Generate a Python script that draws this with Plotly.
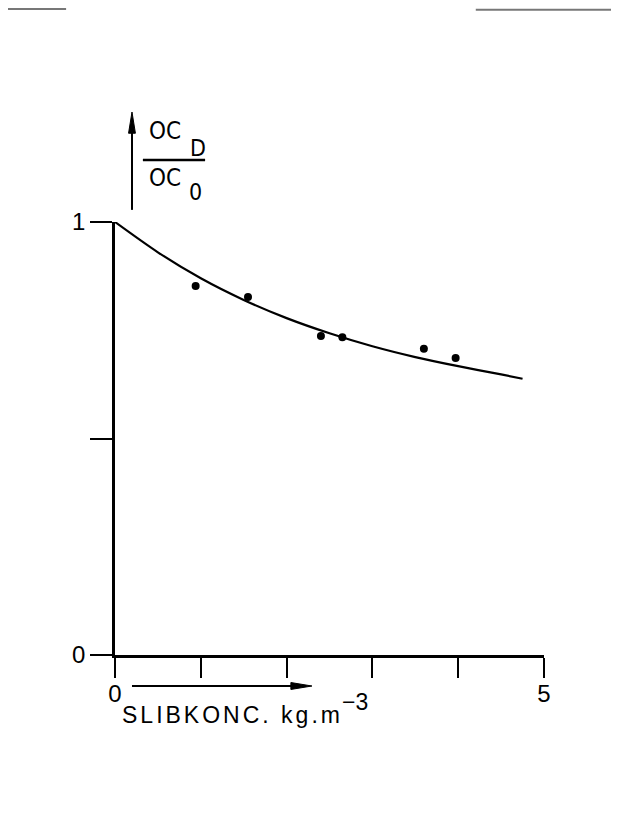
import plotly.graph_objects as go

# Measured points (sludge concentration kg/m3 vs OC_D/OC_0)
point_x = [0.94, 1.55, 2.40, 2.65, 3.60, 3.97]
point_y = [0.852, 0.827, 0.737, 0.734, 0.707, 0.686]

# Fitted curve
curve_x = [0.0, 0.5, 1.0, 1.5, 2.0, 2.5, 3.0, 3.5, 4.0, 4.5, 4.75]
curve_y = [1.0, 0.930, 0.870, 0.820, 0.778, 0.743, 0.713, 0.688, 0.667, 0.648, 0.638]

x_tickvals = [0, 5]
x_ticktext = ["0", "5"]
y_tickvals = [0, 1]
y_ticktext = ["0", "1"]

FONT = "Liberation Sans, Arial, sans-serif"
NARROW = "DejaVu Sans Condensed, Liberation Sans Narrow, Liberation Sans, Arial, sans-serif"

fig = go.Figure()
fig.add_trace(go.Scatter(x=curve_x, y=curve_y, mode="lines",
                         line=dict(color="black", width=2.2, shape="spline", smoothing=0.8),
                         cliponaxis=False, showlegend=False, hoverinfo="skip"))
fig.add_trace(go.Scatter(x=point_x, y=point_y, mode="markers",
                         marker=dict(color="black", size=8),
                         cliponaxis=False, showlegend=False))


def txt(x, y, s, size, family=NARROW):
    return dict(x=x, y=y, xref="paper", yref="paper", xanchor="left", yanchor="middle",
                text=s, showarrow=False, font=dict(family=family, size=size, color="black"))


annotations = [
    txt(0.0746, 1.210, "OC", 24),
    txt(0.170, 1.171, "D", 23),
    txt(0.0746, 1.102, "OC", 24),
    txt(0.168, 1.069, "0", 23),
    txt(0.0117, -0.1386, '<span style="letter-spacing:3px">SLIBKONC. kg.m</span>', 23, FONT),
    txt(0.524, -0.1085, "\u22123", 23, FONT),
]

shapes = [
    # fraction bar
    dict(type="line", xref="paper", yref="paper", x0=0.065, x1=0.21, y0=1.143, y1=1.143,
         line=dict(color="black", width=2.5)),
    # y arrow
    dict(type="line", xref="paper", yref="paper", x0=0.0396, x1=0.0396, y0=1.028, y1=1.215,
         line=dict(color="black", width=2)),
    dict(type="path", xref="paper", yref="paper",
         path="M 0.0316 1.205 L 0.0396 1.254 L 0.0476 1.205 Z",
         fillcolor="black", line=dict(color="black", width=1)),
    # x arrow
    dict(type="line", xref="paper", yref="paper", x0=0.0396, x1=0.42, y0=-0.0716, y1=-0.0716,
         line=dict(color="black", width=2)),
    dict(type="path", xref="paper", yref="paper",
         path="M 0.410 -0.0636 L 0.459 -0.0716 L 0.410 -0.0796 Z",
         fillcolor="black", line=dict(color="black", width=1)),
    # scan border artifacts
    dict(type="line", xref="paper", yref="paper", x0=-0.25, x1=-0.114, y0=1.492, y1=1.492,
         line=dict(color="#777", width=2)),
    dict(type="line", xref="paper", yref="paper", x0=0.841, x1=1.175, y0=1.490, y1=1.490,
         line=dict(color="#777", width=2)),
]

fig.update_layout(
    width=611, height=821,
    margin=dict(l=107, r=75, t=214, b=174),
    paper_bgcolor="white", plot_bgcolor="white",
    font=dict(family=FONT, color="black"),
    xaxis=dict(range=[0, 5], showline=True, linecolor="black", linewidth=2.5,
               ticks="outside", ticklen=20, tickwidth=2, tickcolor="black",
               tickvals=x_tickvals, ticktext=x_ticktext, showgrid=False, zeroline=False,
               ticklabelstandoff=-5,
               tickfont=dict(size=24, family=FONT),
               minor=dict(ticks="outside", ticklen=20, tickwidth=2, tickcolor="black",
                          tickvals=[1, 2, 3, 4], showgrid=False)),
    yaxis=dict(range=[0, 1], showline=True, linecolor="black", linewidth=2.5,
               ticks="outside", ticklen=22, tickwidth=2, tickcolor="black",
               tickvals=y_tickvals, ticktext=y_ticktext, showgrid=False, zeroline=False,
               tickfont=dict(size=24, family=FONT),
               minor=dict(ticks="outside", ticklen=22, tickwidth=2, tickcolor="black",
                          tickvals=[0.5], showgrid=False)),
    annotations=annotations,
    shapes=shapes,
    showlegend=False,
)

fig.write_html("out.html")
